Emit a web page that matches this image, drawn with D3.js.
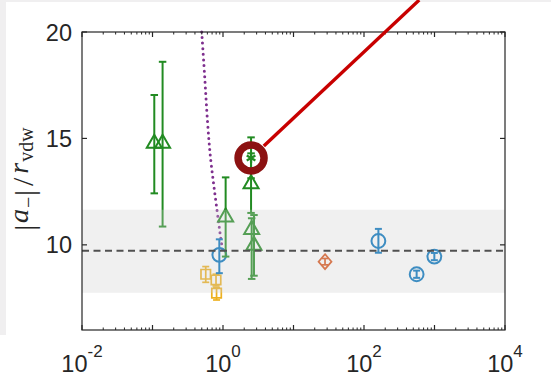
<!DOCTYPE html>
<html>
<head>
<meta charset="utf-8">
<script src="https://cdn.jsdelivr.net/npm/d3@7"></script>
<style>
  html, body { margin: 0; padding: 0; background: #fff; }
  svg { display: block; }
</style>
</head>
<body>
<script>
// ---- data ----
// triangles (green): x, value, lower and upper error limits
const triX  = [0.106, 0.139, 1.09, 2.5, 2.55, 2.75];
const triY  = [14.8, 14.8, 11.33, 12.9, 10.75, 10.0];
const triLo = [12.42, 10.86, 9.45, 11.5, 8.4, 8.55];
const triHi = [17.04, 18.6, 13.17, 14.3, 11.25, 11.4];

// asterisk (green) highlighted by the ring
const starX = [2.5];
const starY = [14.08];
const starLo = [13.13];
const starHi = [15.05];

// circles (blue)
const circX  = [0.887, 160, 558, 995];
const circY  = [9.53, 10.18, 8.62, 9.45];
const circLo = [8.67, 9.63, 8.45, 9.28];
const circHi = [10.26, 10.75, 8.79, 9.62];

// diamond (orange)
const diaX  = [28];
const diaY  = [9.21];
const diaLo = [9.06];
const diaHi = [9.36];

// squares (yellow)
const sqX  = [0.569, 0.796, 0.81];
const sqY  = [8.62, 8.35, 7.73];
const sqLo = [8.24, 8.07, 7.41];
const sqHi = [8.98, 8.62, 7.99];

// dotted theory curve (purple)
const curveX = [0.499, 0.55, 0.60, 0.66, 0.745, 0.858, 0.94, 1.01];
const curveY = [20.0, 17.9, 15.9, 14.2, 12.73, 11.17, 10.2, 9.62];

// mean value and its band
const meanVal = 9.72;
const bandLo = 7.75;
const bandHi = 11.65;

// annotation line from the ring out to the upper right
const pointerTo = [607, 21.5];

// axes
const xDomain = [1e-2, 1e4];
const yDomain = [6, 20];
const xMajor = [1e-2, 1e-1, 1e0, 1e1, 1e2, 1e3, 1e4];
const xLabelExp = [-2, 0, 2, 4];
const yTicks = [10, 15, 20];

// ---- drawing ----
const W = 551, H = 376;
const M = { left: 82, right: 505, top: 32, bottom: 330 };

const C = {
  green: "#228b22",
  blue: "#0072bd",
  orange: "#d95319",
  yellow: "#edb120",
  purple: "#7e2f8e",
  axis: "#262626",
  ring: "#8c1212",
  pointer: "#c80000"
};

const svg = d3.select("body").append("svg").attr("width", W).attr("height", H);

// figure frame strips
svg.append("rect").attr("x", 0).attr("y", 0).attr("width", W).attr("height", 2).attr("fill", "#f0eff0");
svg.append("rect").attr("x", 0).attr("y", 0).attr("width", 6).attr("height", 335).attr("fill", "#f0eff0");

const x = d3.scaleLog().domain(xDomain).range([M.left, M.right]);
const y = d3.scaleLinear().domain(yDomain).range([M.bottom, M.top]);

const plot = svg.append("g");

// purple dotted curve
plot.append("path")
  .datum(d3.zip(curveX, curveY))
  .attr("fill", "none")
  .attr("stroke", C.purple)
  .attr("stroke-width", 3)
  .attr("stroke-linecap", "round")
  .attr("stroke-dasharray", "0 5.6")
  .attr("d", d3.line().x(d => x(d[0])).y(d => y(d[1])).curve(d3.curveCatmullRom));

function errorBars(xs, lo, hi, color, cap, width) {
  const g = plot.append("g").attr("stroke", color).attr("stroke-width", width).attr("fill", "none");
  xs.forEach((xv, i) => {
    const px = x(xv);
    g.append("line").attr("x1", px).attr("x2", px).attr("y1", y(lo[i])).attr("y2", y(hi[i]));
    [lo[i], hi[i]].forEach(v => {
      g.append("line").attr("x1", px - cap / 2).attr("x2", px + cap / 2).attr("y1", y(v)).attr("y2", y(v));
    });
  });
}

function markers(xs, ys, type, size, color, width) {
  const sym = d3.symbol().type(type).size(size);
  plot.append("g").selectAll("path")
    .data(d3.zip(xs, ys))
    .join("path")
    .attr("transform", d => `translate(${x(d[0])},${y(d[1])})`)
    .attr("d", sym)
    .attr("fill", "none")
    .attr("stroke", color)
    .attr("stroke-width", width);
}

// yellow squares
errorBars(sqX, sqLo, sqHi, C.yellow, 7, 1.7);
markers(sqX, sqY, d3.symbolSquare, 90, C.yellow, 1.7);

// orange diamond
errorBars(diaX, diaLo, diaHi, C.orange, 6, 1.7);
plot.append("g").selectAll("path")
  .data(d3.zip(diaX, diaY))
  .join("path")
  .attr("transform", d => `translate(${x(d[0])},${y(d[1])})`)
  .attr("d", "M0,-7.5L6.5,0L0,7.5L-6.5,0Z")
  .attr("fill", "none")
  .attr("stroke", C.orange)
  .attr("stroke-width", 1.7);

// blue circles
errorBars(circX, circLo, circHi, C.blue, 7, 2);
markers(circX, circY, d3.symbolCircle, 150, C.blue, 2);

// green triangles
errorBars(triX, triLo, triHi, C.green, 7.5, 2);
const triPath = "M0,-8L7.5,5L-7.5,5Z";
plot.append("g").selectAll("path")
  .data(d3.zip(triX, triY))
  .join("path")
  .attr("transform", d => `translate(${x(d[0])},${y(d[1])})`)
  .attr("d", triPath)
  .attr("fill", "none")
  .attr("stroke", C.green)
  .attr("stroke-width", 2);

// green asterisk
errorBars(starX, starLo, starHi, C.green, 7.5, 2);
markers(starX, starY, d3.symbolAsterisk, 70, C.green, 2.2);

// translucent band over the data, then the mean line
plot.append("rect")
  .attr("x", M.left).attr("width", M.right - M.left)
  .attr("y", y(bandHi)).attr("height", y(bandLo) - y(bandHi))
  .attr("fill", "#cccccc").attr("fill-opacity", 0.3);

plot.append("line")
  .attr("x1", M.left).attr("x2", M.right)
  .attr("y1", y(meanVal)).attr("y2", y(meanVal))
  .attr("stroke", "#505050").attr("stroke-width", 1.9)
  .attr("stroke-dasharray", "7 4.5");

// ---- axes box with inward ticks ----
const ax = svg.append("g").attr("stroke", C.axis).attr("stroke-width", 1.2).attr("fill", "none");
ax.append("rect").attr("x", M.left).attr("y", M.top)
  .attr("width", M.right - M.left).attr("height", M.bottom - M.top);

const minor = [];
for (let e = -2; e < 4; e++) for (let k = 2; k <= 9; k++) minor.push(k * Math.pow(10, e));

xMajor.forEach(v => {
  ax.append("line").attr("x1", x(v)).attr("x2", x(v)).attr("y1", M.bottom).attr("y2", M.bottom - 5);
  ax.append("line").attr("x1", x(v)).attr("x2", x(v)).attr("y1", M.top).attr("y2", M.top + 5);
});
minor.forEach(v => {
  ax.append("line").attr("x1", x(v)).attr("x2", x(v)).attr("y1", M.bottom).attr("y2", M.bottom - 2.5).attr("stroke-width", 1);
  ax.append("line").attr("x1", x(v)).attr("x2", x(v)).attr("y1", M.top).attr("y2", M.top + 2.5).attr("stroke-width", 1);
});
yTicks.forEach(v => {
  ax.append("line").attr("x1", M.left).attr("x2", M.left + 5).attr("y1", y(v)).attr("y2", y(v));
  ax.append("line").attr("x1", M.right).attr("x2", M.right - 5).attr("y1", y(v)).attr("y2", y(v));
});

// tick labels
const font = "'Liberation Sans', Arial, Helvetica, sans-serif";
svg.append("g").selectAll("text")
  .data(yTicks)
  .join("text")
  .attr("x", M.left - 10)
  .attr("y", d => y(d) + 8.5)
  .attr("text-anchor", "end")
  .attr("font-family", font)
  .attr("font-size", 23.5)
  .attr("fill", C.axis)
  .text(d => d);

const xl = svg.append("g").selectAll("text")
  .data(xLabelExp)
  .join("text")
  .attr("x", d => x(Math.pow(10, d)))
  .attr("y", 372)
  .attr("text-anchor", "middle")
  .attr("font-family", font)
  .attr("font-size", 23.5)
  .attr("fill", C.axis);
xl.append("tspan").text("10");
xl.append("tspan").attr("font-size", 17).attr("baseline-shift", 15).text(d => d < 0 ? "-" + Math.abs(d) : d);

// y axis title: |a_-| / r_vdw
const serif = "'Liberation Serif', 'Times New Roman', serif";
const yt = svg.append("text")
  .attr("transform", "translate(28,179) rotate(-90)")
  .attr("text-anchor", "middle")
  .attr("font-family", serif)
  .attr("font-size", 28)
  .attr("fill", C.axis);
yt.append("tspan").attr("baseline-shift", -6).text("|");
yt.append("tspan").attr("font-style", "italic").attr("dx", 2).text("a");
yt.append("tspan").attr("font-size", 20).attr("baseline-shift", -7).attr("dx", 1).text("−");
yt.append("tspan").attr("baseline-shift", -6).attr("dx", 1).text("|");
yt.append("tspan").attr("font-size", 30).attr("baseline-shift", -5).attr("dx", 4).text("/");
yt.append("tspan").attr("font-style", "italic").attr("dx", 4).text("r");
yt.append("tspan").attr("font-size", 20).attr("baseline-shift", -5).attr("dx", 1).text("vdw");

// ---- ring and pointer line ----
const cx = x(starX[0]), cy = y(starY[0]);
const ex = x(pointerTo[0]), ey = y(pointerTo[1]);
const len = Math.hypot(ex - cx, ey - cy);
const r0 = 17.5;
svg.append("line")
  .attr("x1", cx + (ex - cx) / len * r0).attr("y1", cy + (ey - cy) / len * r0)
  .attr("x2", ex).attr("y2", ey)
  .attr("stroke", C.pointer).attr("stroke-width", 3.4);
svg.append("circle")
  .attr("cx", cx).attr("cy", cy).attr("r", 13)
  .attr("fill", "none").attr("stroke", C.ring).attr("stroke-width", 7.5);
</script>
</body>
</html>
